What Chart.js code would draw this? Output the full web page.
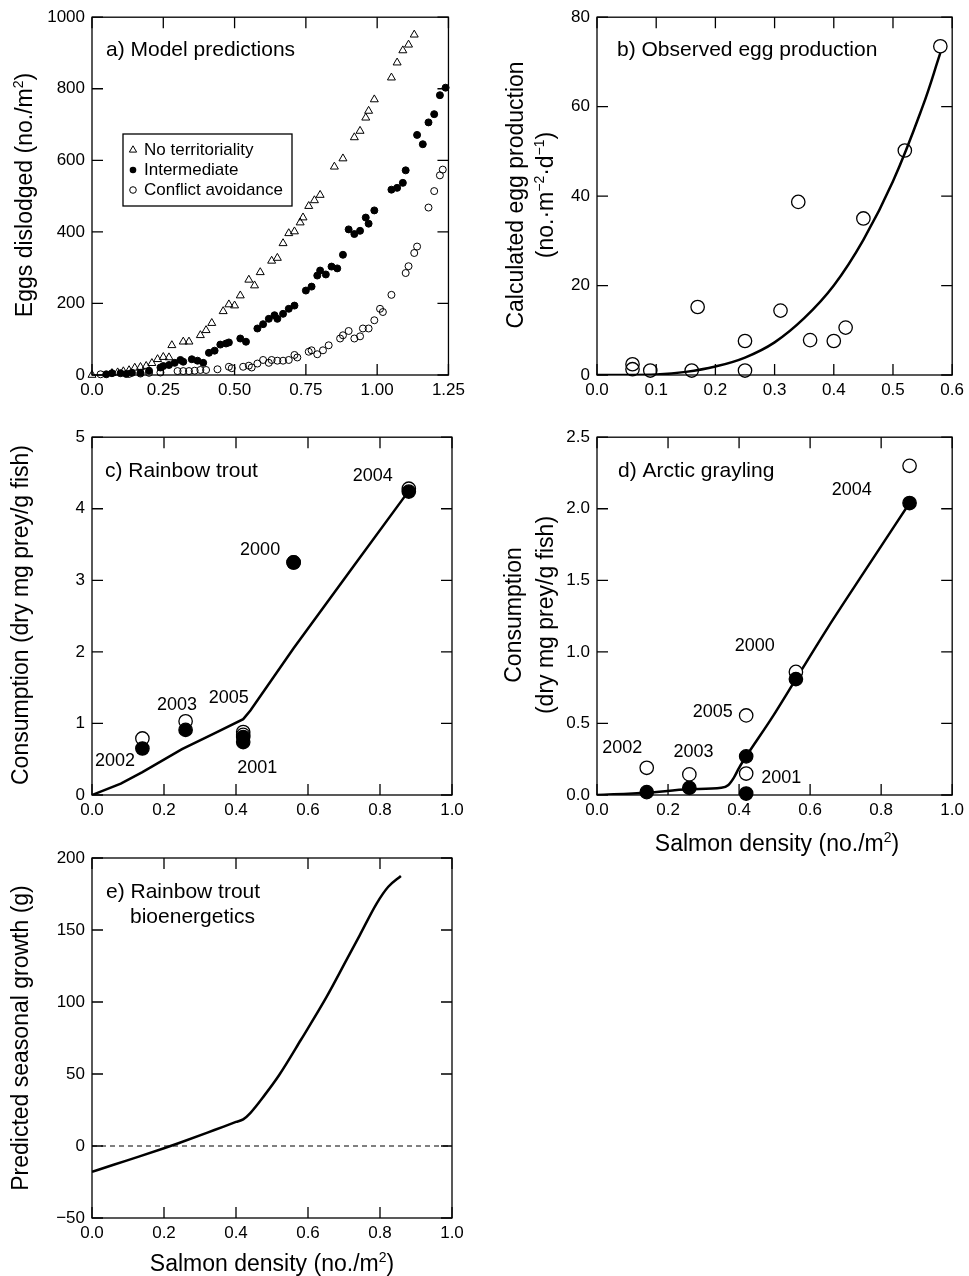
<!DOCTYPE html>
<html>
<head>
<meta charset="utf-8">
<title>Salmon density and egg predation</title>
<script src="https://cdn.jsdelivr.net/npm/chart.js"></script>
<style>
  body { margin: 0; background: #fff; }
  #wrap { position: relative; width: 969px; height: 1276px; overflow: hidden; }
  canvas { position: absolute; }
</style>
</head>
<body>
<div id="wrap">
  <canvas id="ca"></canvas>
  <canvas id="cb"></canvas>
  <canvas id="cc"></canvas>
  <canvas id="cd"></canvas>
  <canvas id="ce"></canvas>
</div>
<script>
// ---- a) model predictions ----
const aTriX = [0, 0.07, 0.09, 0.11, 0.13, 0.15, 0.17, 0.19, 0.21, 0.23, 0.25, 0.27, 0.28, 0.32, 0.34, 0.38, 0.40, 0.42, 0.46, 0.48,
  0.50, 0.52, 0.55, 0.57, 0.59, 0.63, 0.65, 0.67, 0.69, 0.71, 0.73, 0.74, 0.76, 0.78, 0.80, 0.85, 0.88, 0.92, 0.94, 0.96,
  0.97, 0.99, 1.05, 1.07, 1.09, 1.11, 1.13];
const aTriY = [0, 5, 7, 10, 13, 20, 22, 25, 33, 44, 50, 49, 83, 93, 93, 111, 125, 145, 178, 197,
  194, 222, 266, 250, 287, 319, 327, 368, 396, 401, 426, 440, 472, 488, 503, 582, 605, 664, 682, 719,
  738, 770, 831, 873, 907, 923, 951];
const aDotX = [0.05, 0.07, 0.10, 0.12, 0.14, 0.17, 0.20, 0.24, 0.25, 0.27, 0.29, 0.31, 0.32, 0.35, 0.37, 0.39, 0.41, 0.43, 0.45, 0.47,
  0.48, 0.52, 0.54, 0.58, 0.60, 0.62, 0.64, 0.65, 0.67, 0.69, 0.71, 0.75, 0.77, 0.79, 0.80, 0.82, 0.84, 0.86, 0.88, 0.90,
  0.92, 0.94, 0.96, 0.97, 0.99, 1.05, 1.07, 1.09, 1.10, 1.14, 1.16, 1.18, 1.20, 1.22, 1.24];
const aDotY = [2, 5, 5, 3, 6, 6, 12, 21, 25, 28, 34, 42, 37, 44, 40, 34, 62, 68, 85, 88,
  91, 102, 93, 130, 142, 157, 167, 157, 171, 185, 194, 236, 247, 278, 292, 281, 303, 298, 336, 407,
  394, 403, 440, 423, 460, 518, 523, 537, 572, 671, 645, 706, 729, 782, 803];
const aRingX = [0.03, 0.13, 0.17, 0.20, 0.24, 0.30, 0.32, 0.34, 0.36, 0.38, 0.40, 0.44, 0.48, 0.49, 0.53, 0.55, 0.56, 0.58, 0.60, 0.62,
  0.63, 0.65, 0.67, 0.69, 0.71, 0.72, 0.76, 0.77, 0.79, 0.81, 0.83, 0.87, 0.88, 0.90, 0.92, 0.94, 0.95, 0.97, 0.99, 1.01,
  1.02, 1.05, 1.10, 1.11, 1.13, 1.14, 1.18, 1.20, 1.22, 1.23];
const aRingY = [2, 3, 4, 6, 7, 11, 11, 11, 12, 14, 14, 16, 23, 19, 23, 26, 21, 32, 42, 34,
  42, 40, 40, 42, 56, 49, 65, 69, 58, 69, 83, 102, 111, 123, 102, 108, 130, 130, 153, 185,
  176, 224, 285, 304, 341, 359, 468, 514, 558, 574];
const aSeries = ['No territoriality', 'Intermediate', 'Conflict avoidance'];
const aXTicks = [0, 0.25, 0.5, 0.75, 1.0, 1.25];
const aXLabels = ['0.0', '0.25', '0.50', '0.75', '1.00', '1.25'];
const aYTicks = [0, 200, 400, 600, 800, 1000];
const aYLabels = ['0', '200', '400', '600', '800', '1000'];

// ---- b) observed egg production ----
const bObsX = [0.06, 0.06, 0.09, 0.16, 0.17, 0.25, 0.25, 0.31, 0.34, 0.36, 0.40, 0.42, 0.45, 0.52, 0.58];
const bObsY = [2.4, 1.3, 1.0, 1.0, 15.2, 7.6, 1.0, 14.4, 38.7, 7.8, 7.6, 10.6, 35.0, 50.2, 73.5];
const bFitX = [0, 0.05, 0.10, 0.15, 0.20, 0.25, 0.30, 0.35, 0.40, 0.45, 0.50, 0.55, 0.58];
const bFitY = [0, 0, 0.1, 0.7, 1.9, 3.9, 7.3, 12.7, 20.0, 30.2, 43.3, 60.0, 72.0];
const bXTicks = [0, 0.1, 0.2, 0.3, 0.4, 0.5, 0.6];
const bXLabels = ['0.0', '0.1', '0.2', '0.3', '0.4', '0.5', '0.6'];
const bYTicks = [0, 20, 40, 60, 80];
const bYLabels = ['0', '20', '40', '60', '80'];

// ---- c) rainbow trout consumption ----
const cYears = ['2002', '2003', '2005', '2001', '2000', '2004'];
const cDensity = [0.14, 0.26, 0.42, 0.42, 0.56, 0.88];
const cOpen = [0.79, 1.03, 0.88, 0.84, 3.25, 4.28];
const cFilled = [0.65, 0.91, 0.81, 0.74, 3.25, 4.24];
const cModelX = [0, 0.08, 0.14, 0.25, 0.34, 0.42, 0.44, 0.56, 0.73, 0.88];
const cModelY = [0, 0.16, 0.32, 0.64, 0.86, 1.06, 1.18, 2.05, 3.22, 4.25];
const cLabelX = [0.064, 0.236, 0.380, 0.459, 0.467, 0.780];
const cLabelY = [0.47, 1.26, 1.36, 0.37, 3.42, 4.46];
const cXTicks = [0, 0.2, 0.4, 0.6, 0.8, 1.0];
const cXLabels = ['0.0', '0.2', '0.4', '0.6', '0.8', '1.0'];
const cYTicks = [0, 1, 2, 3, 4, 5];
const cYLabels = ['0', '1', '2', '3', '4', '5'];

// ---- d) arctic grayling consumption ----
const dYears = ['2002', '2003', '2005', '2001', '2000', '2004'];
const dDensity = [0.14, 0.26, 0.42, 0.42, 0.56, 0.88];
const dOpen = [0.19, 0.144, 0.556, 0.15, 0.86, 2.30];
const dFilled = [0.02, 0.05, 0.27, 0.01, 0.81, 2.04];
const dModelX = [0, 0.14, 0.26, 0.35, 0.37, 0.385, 0.40, 0.42, 0.49, 0.56, 0.65, 0.75, 0.88];
const dModelY = [0, 0.016, 0.04, 0.05, 0.07, 0.12, 0.19, 0.27, 0.53, 0.81, 1.17, 1.55, 2.04];
const dLabelX = [0.071, 0.272, 0.326, 0.519, 0.444, 0.717];
const dLabelY = [0.33, 0.30, 0.578, 0.116, 1.04, 2.13];
const dXTicks = [0, 0.2, 0.4, 0.6, 0.8, 1.0];
const dXLabels = ['0.0', '0.2', '0.4', '0.6', '0.8', '1.0'];
const dYTicks = [0, 0.5, 1.0, 1.5, 2.0, 2.5];
const dYLabels = ['0.0', '0.5', '1.0', '1.5', '2.0', '2.5'];

// ---- e) bioenergetics growth ----
const eGrowthX = [0, 0.06, 0.13, 0.20, 0.24, 0.34, 0.40, 0.42, 0.439, 0.48, 0.52, 0.58, 0.652, 0.707, 0.744, 0.791, 0.823, 0.858];
const eGrowthY = [-18, -13, -7.4, -1.6, 1.9, 11.1, 16.7, 18.5, 22.7, 35.5, 49.3, 73.6, 103.7, 129.2, 146.5, 168.5, 180, 187.5];
const eZeroX = [0, 1];
const eZeroY = [0, 0];
const eXTicks = [0, 0.2, 0.4, 0.6, 0.8, 1.0];
const eXLabels = ['0.0', '0.2', '0.4', '0.6', '0.8', '1.0'];
const eYTicks = [-50, 0, 50, 100, 150, 200];
const eYLabels = ['\u221250', '0', '50', '100', '150', '200'];

const FONT = "'Liberation Sans', Arial, Helvetica, sans-serif";
const TICK = 11;
Chart.defaults.font.family = FONT;
Chart.defaults.color = '#000';

function pts(xs, ys) { return xs.map((x, i) => ({ x: x, y: ys[i] })); }

// draw text made of segments, a segment marked true is a superscript
function richText(ctx, segs, x, y, size, rotate, align) {
  ctx.save();
  ctx.translate(x, y);
  if (rotate) ctx.rotate(-Math.PI / 2);
  ctx.fillStyle = '#000';
  ctx.textBaseline = 'middle';
  ctx.textAlign = 'left';
  let total = 0;
  const parts = segs.map(s => {
    const sz = s[1] ? Math.round(size * 0.62) : size;
    ctx.font = sz + 'px ' + FONT;
    const w = ctx.measureText(s[0]).width;
    total += w;
    return { t: s[0], sz: sz, w: w, sup: s[1] };
  });
  let cx = align === 'left' ? 0 : -total / 2;
  parts.forEach(p => {
    ctx.font = p.sz + 'px ' + FONT;
    ctx.fillText(p.t, cx, p.sup ? -size * 0.3 : 0);
    cx += p.w;
  });
  ctx.restore();
}

// box with inward ticks on all four sides
const framePlugin = {
  id: 'frame',
  afterDatasetsDraw(chart) {
    const { ctx, chartArea: a, scales } = chart;
    ctx.save();
    ctx.strokeStyle = '#000';
    ctx.lineWidth = 1.3;
    ctx.strokeRect(a.left, a.top, a.right - a.left, a.bottom - a.top);
    ctx.beginPath();
    scales.x.ticks.forEach(t => {
      const px = scales.x.getPixelForValue(t.value);
      ctx.moveTo(px, a.bottom); ctx.lineTo(px, a.bottom - TICK);
      ctx.moveTo(px, a.top); ctx.lineTo(px, a.top + TICK);
    });
    scales.y.ticks.forEach(t => {
      const py = scales.y.getPixelForValue(t.value);
      ctx.moveTo(a.left, py); ctx.lineTo(a.left + TICK, py);
      ctx.moveTo(a.right, py); ctx.lineTo(a.right - TICK, py);
    });
    ctx.stroke();
    ctx.restore();
  }
};

function decorPlugin(box, decor) {
  return {
    id: 'decor',
    afterDraw(chart) {
      const ctx = chart.ctx;
      (decor.texts || []).forEach(t => richText(ctx, t.segs, t.x - box.ox, t.y - box.oy, t.size, t.rotate, t.align));
      if (decor.years) {
        decor.years.t.forEach((yr, i) => {
          const px = chart.scales.x.getPixelForValue(decor.years.x[i]);
          const py = chart.scales.y.getPixelForValue(decor.years.y[i]);
          richText(ctx, [[yr]], px, py, 18, false, 'center');
        });
      }
      if (decor.legend) decor.legend(ctx, box);
    }
  };
}

function axis(vals, labels, dir, size) {
  return {
    type: 'linear',
    min: vals[0],
    max: vals[vals.length - 1],
    grid: { display: false, drawTicks: false },
    border: { display: false },
    afterBuildTicks: s => { s.ticks = vals.map(v => ({ value: v })); },
    afterFit: s => { if (dir === 'x') s.height = size; else s.width = size; },
    ticks: {
      autoSkip: false, maxRotation: 0, minRotation: 0,
      padding: dir === 'x' ? 5 : 7,
      color: '#000',
      font: { size: 17 },
      callback: (v, i) => labels[i]
    }
  };
}

function makeChart(id, box, datasets, xv, xl, yv, yl, decor) {
  const cv = document.getElementById(id);
  cv.width = box.w;
  cv.height = box.h;
  cv.style.left = box.ox + 'px';
  cv.style.top = box.oy + 'px';
  return new Chart(cv, {
    type: 'scatter',
    data: { datasets: datasets },
    options: {
      responsive: false,
      animation: false,
      devicePixelRatio: 1,
      layout: { padding: { left: 0, right: box.ox + box.w - box.right, top: box.top - box.oy, bottom: 0 } },
      plugins: { legend: { display: false }, tooltip: { enabled: false } },
      scales: {
        x: axis(xv, xl, 'x', box.oy + box.h - box.bottom),
        y: axis(yv, yl, 'y', box.left - box.ox)
      }
    },
    plugins: [framePlugin, decorPlugin(box, decor)]
  });
}

function lineSet(xs, ys, extra) {
  return Object.assign({
    data: pts(xs, ys), showLine: true, pointRadius: 0, borderColor: '#000',
    borderWidth: 2.5, backgroundColor: 'transparent', tension: 0, order: 5
  }, extra || {});
}
function markSet(xs, ys, style, r, fill, order, bw) {
  return {
    data: pts(xs, ys), showLine: false, pointStyle: style, pointRadius: r,
    pointBorderColor: '#000', pointBackgroundColor: fill, pointBorderWidth: bw || 1.2,
    clip: false, order: order
  };
}

const legendA = (ctx, box) => {
  const ox = box.ox, oy = box.oy;
  ctx.save();
  ctx.strokeStyle = '#000';
  ctx.lineWidth = 1.3;
  ctx.strokeRect(123 - ox, 134 - oy, 169, 72);
  ctx.lineWidth = 1;
  // triangle
  const tx = 133 - ox, ty = 150 - oy, r = 4.2;
  ctx.beginPath();
  ctx.moveTo(tx, ty - r);
  ctx.lineTo(tx + r * 0.866, ty + r * 0.5);
  ctx.lineTo(tx - r * 0.866, ty + r * 0.5);
  ctx.closePath();
  ctx.stroke();
  ctx.beginPath();
  ctx.arc(133 - ox, 170 - oy, 3.3, 0, Math.PI * 2);
  ctx.fillStyle = '#000';
  ctx.fill();
  ctx.beginPath();
  ctx.arc(133 - ox, 190 - oy, 3.3, 0, Math.PI * 2);
  ctx.stroke();
  ctx.restore();
  aSeries.forEach((s, i) => richText(ctx, [[s]], 144 - ox, 150 + 20 * i - oy, 17, false, 'left'));
};

// a
makeChart('ca', { ox: 0, oy: 0, w: 470, h: 420, left: 92, top: 15, right: 452, bottom: 375 }, [
  markSet(aTriX, aTriY, 'triangle', 4.6, 'transparent', 3, 1),
  markSet(aDotX, aDotY, 'circle', 3.5, '#000', 2, 1),
  markSet(aRingX, aRingY, 'circle', 3.5, 'transparent', 1, 1)
], aXTicks, aXLabels, aYTicks, aYLabels, {
  texts: [
    { segs: [['a) Model predictions']], x: 106, y: 50, size: 21, align: 'left' },
    { segs: [['Eggs dislodged (no./m'], ['2', true], [')']], x: 26, y: 195, size: 23, rotate: true }
  ],
  legend: legendA
});

// b
makeChart('cb', { ox: 470, oy: 0, w: 499, h: 420, left: 597, top: 15, right: 957, bottom: 375 }, [
  lineSet(bFitX, bFitY, { tension: 0.4 }),
  markSet(bObsX, bObsY, 'circle', 6.7, 'transparent', 1, 1.3)
], bXTicks, bXLabels, bYTicks, bYLabels, {
  texts: [
    { segs: [['b) Observed egg production']], x: 617, y: 50, size: 21, align: 'left' },
    { segs: [['Calculated egg production']], x: 517, y: 195, size: 23, rotate: true },
    { segs: [['(no.\u00b7m'], ['\u22122', true], ['\u00b7d'], ['\u22121', true], [')']], x: 547, y: 195, size: 23, rotate: true }
  ]
});

// c
makeChart('cc', { ox: 0, oy: 420, w: 470, h: 440, left: 92, top: 435, right: 452, bottom: 795 }, [
  lineSet(cModelX, cModelY),
  markSet(cDensity, cOpen, 'circle', 6.7, '#fff', 2, 1.3),
  markSet(cDensity, cFilled, 'circle', 6.7, '#000', 1, 1.3)
], cXTicks, cXLabels, cYTicks, cYLabels, {
  texts: [
    { segs: [['c) Rainbow trout']], x: 105, y: 471, size: 21, align: 'left' },
    { segs: [['Consumption (dry mg prey/g fish)']], x: 22, y: 615, size: 23, rotate: true }
  ],
  years: { t: cYears, x: cLabelX, y: cLabelY }
});

// d
makeChart('cd', { ox: 470, oy: 420, w: 499, h: 440, left: 597, top: 435, right: 957, bottom: 795 }, [
  lineSet(dModelX, dModelY, { cubicInterpolationMode: 'monotone' }),
  markSet(dDensity, dOpen, 'circle', 6.7, '#fff', 2, 1.3),
  markSet(dDensity, dFilled, 'circle', 6.7, '#000', 1, 1.3)
], dXTicks, dXLabels, dYTicks, dYLabels, {
  texts: [
    { segs: [['d) Arctic grayling']], x: 618, y: 471, size: 21, align: 'left' },
    { segs: [['Consumption']], x: 515, y: 615, size: 23, rotate: true },
    { segs: [['(dry mg prey/g fish)']], x: 547, y: 615, size: 23, rotate: true },
    { segs: [['Salmon density (no./m'], ['2', true], [')']], x: 777, y: 845, size: 23 }
  ],
  years: { t: dYears, x: dLabelX, y: dLabelY }
});

// e
makeChart('ce', { ox: 0, oy: 840, w: 470, h: 436, left: 92, top: 858, right: 452, bottom: 1218 }, [
  lineSet(eZeroX, eZeroY, { borderWidth: 1, borderDash: [5, 4], order: 6 }),
  lineSet(eGrowthX, eGrowthY, { cubicInterpolationMode: 'monotone' })
], eXTicks, eXLabels, eYTicks, eYLabels, {
  texts: [
    { segs: [['e) Rainbow trout']], x: 106, y: 892, size: 21, align: 'left' },
    { segs: [['bioenergetics']], x: 130, y: 917, size: 21, align: 'left' },
    { segs: [['Predicted seasonal growth (g)']], x: 22, y: 1038, size: 23, rotate: true },
    { segs: [['Salmon density (no./m'], ['2', true], [')']], x: 272, y: 1265, size: 23 }
  ]
});
</script>
</body>
</html>
